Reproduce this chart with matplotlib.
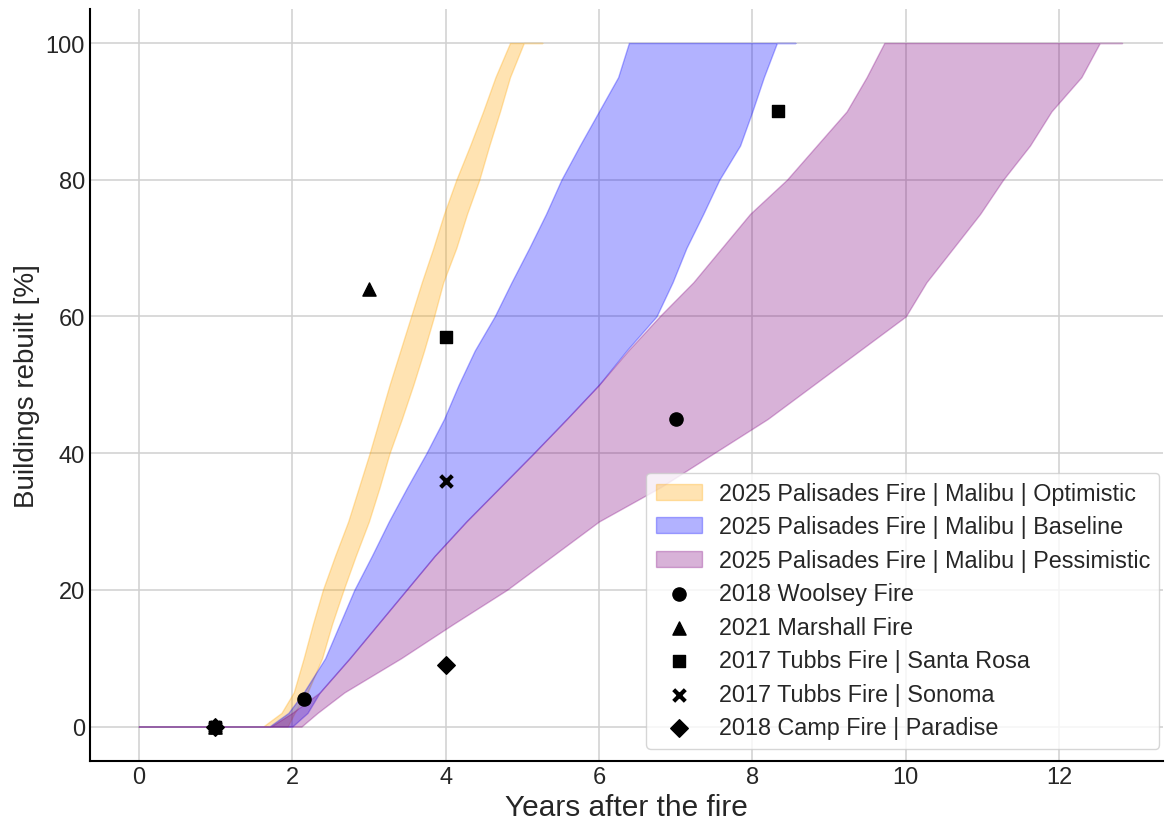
import numpy as np
import matplotlib.pyplot as plt
import seaborn as sns

# Band edges read at fixed "% rebuilt" levels: left = fast edge, right = slow edge (years)
opt_y = [0, 0, 2, 5, 10, 15, 20, 25, 30, 35, 40, 45, 50, 55, 60, 65, 70, 75, 80, 85, 90, 95, 100, 100]
opt_left = [0, 1.62, 1.86, 2.02, 2.15, 2.27, 2.40, 2.56, 2.73, 2.87, 3.01, 3.14, 3.27, 3.41,
            3.55, 3.69, 3.84, 3.98, 4.14, 4.32, 4.49, 4.65, 4.84, 4.84]
opt_right = [1.94, 1.94, 2.03, 2.20, 2.39, 2.52, 2.67, 2.83, 3.00, 3.14, 3.27, 3.43, 3.58, 3.72,
             3.85, 3.97, 4.14, 4.28, 4.44, 4.57, 4.71, 4.84, 5.02, 5.26]

base_y = [0, 0, 2, 5, 10, 15, 20, 25, 30, 35, 40, 45, 50, 55, 60, 65, 70, 75, 80, 85, 90, 95, 100, 100]
base_left = [0, 1.70, 1.95, 2.15, 2.43, 2.62, 2.81, 3.04, 3.26, 3.50, 3.75, 3.98, 4.17, 4.38,
             4.64, 4.86, 5.09, 5.31, 5.51, 5.75, 6.00, 6.25, 6.39, 6.39]
base_right = [2.00, 2.00, 2.20, 2.36, 2.75, 3.12, 3.49, 3.86, 4.27, 4.71, 5.15, 5.58, 6.00, 6.36,
              6.75, 6.96, 7.14, 7.36, 7.57, 7.84, 8.00, 8.15, 8.32, 8.56]

pess_y = [0, 0, 2, 5, 10, 15, 20, 25, 30, 35, 40, 45, 50, 55, 60, 65, 70, 75, 80, 85, 90, 95, 100, 100]
pess_left = [0, 1.72, 2.00, 2.36, 2.75, 3.12, 3.49, 3.86, 4.27, 4.71, 5.15, 5.58, 6.00, 6.38,
             6.79, 7.23, 7.60, 7.97, 8.45, 8.84, 9.23, 9.49, 9.72, 9.72]
pess_right = [2.12, 2.12, 2.33, 2.68, 3.42, 4.10, 4.80, 5.40, 6.00, 6.80, 7.50, 8.20, 8.80, 9.40,
              10.00, 10.27, 10.62, 10.97, 11.27, 11.62, 11.90, 12.29, 12.53, 12.82]

# Observed recovery of past fires
woolsey_x = [1, 2.15, 7]
woolsey_y = [0, 4, 45]
marshall_x = [1, 3]
marshall_y = [0, 64]
santa_rosa_x = [1, 4, 8.33]
santa_rosa_y = [0, 57, 90]
sonoma_x = [1, 4]
sonoma_y = [0, 36]
camp_x = [1, 4]
camp_y = [0, 9]

sns.set_style('whitegrid')
plt.rcParams['font.family'] = ['Liberation Sans', 'DejaVu Sans']

fig = plt.figure(figsize=(11.65, 8.2), dpi=100)
ax = fig.add_axes([0.077, 0.071, 0.921, 0.917])

ax.fill_betweenx(opt_y, opt_left, opt_right, color='orange', alpha=0.3, lw=1,
                 label='2025 Palisades Fire | Malibu | Optimistic')
ax.fill_betweenx(base_y, base_left, base_right, color='blue', alpha=0.3, lw=1,
                 label='2025 Palisades Fire | Malibu | Baseline')
ax.fill_betweenx(pess_y, pess_left, pess_right, color='purple', alpha=0.3, lw=1,
                 label='2025 Palisades Fire | Malibu | Pessimistic')

ax.scatter(woolsey_x, woolsey_y, marker='o', s=90, color='black', zorder=5, label='2018 Woolsey Fire')
ax.scatter(marshall_x, marshall_y, marker='^', s=90, color='black', zorder=5, label='2021 Marshall Fire')
ax.scatter(santa_rosa_x, santa_rosa_y, marker='s', s=85, color='black', zorder=5,
           label='2017 Tubbs Fire | Santa Rosa')
ax.scatter(sonoma_x, sonoma_y, marker='x', s=70, linewidths=3, color='black', zorder=5,
           label='2017 Tubbs Fire | Sonoma')
ax.scatter(camp_x, camp_y, marker='D', s=80, color='black', zorder=5, label='2018 Camp Fire | Paradise')

ax.set_xlim(-0.64, 13.35)
ax.set_ylim(-5, 105)
ax.set_xticks([0, 2, 4, 6, 8, 10, 12])
ax.set_yticks([0, 20, 40, 60, 80, 100])
ax.tick_params(labelsize=17, colors='.15', length=0)
ax.set_xlabel('Years after the fire', fontsize=21.5, color='.15', labelpad=4)
ax.set_ylabel('Buildings rebuilt [%]', fontsize=20, color='.15')
ax.grid(True, color='#d0d0d0', lw=1.1)

for side in ['top', 'right']:
    ax.spines[side].set_visible(False)
for side in ['left', 'bottom']:
    ax.spines[side].set_color('black')
    ax.spines[side].set_linewidth(1.5)

ax.legend(loc='lower right', bbox_to_anchor=(0.997, 0.016), fontsize=16.8, frameon=True,
          labelspacing=0.45, borderaxespad=0, handletextpad=0.7)

fig.savefig('out.png', dpi=100)
